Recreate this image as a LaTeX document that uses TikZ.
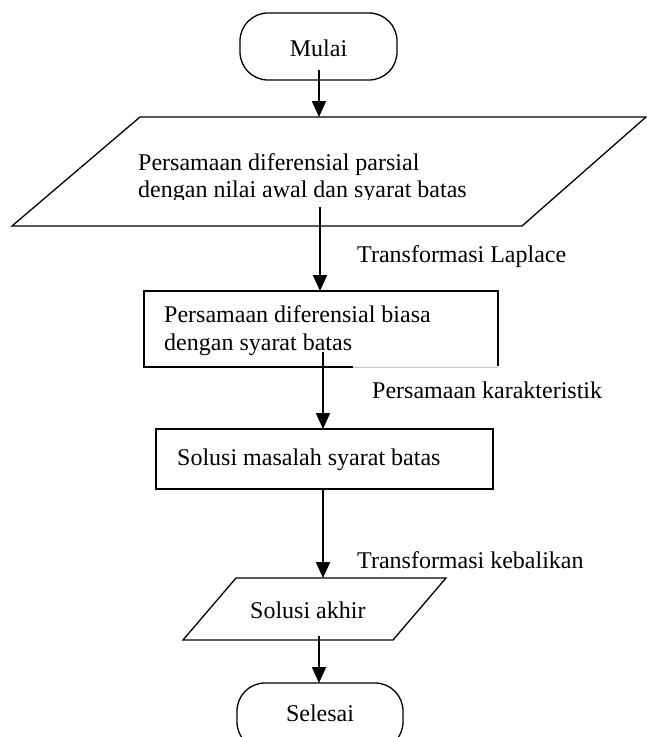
\documentclass[tikz,border=0pt]{standalone}
\usepackage{fontspec}
\setmainfont{Liberation Serif}
\usetikzlibrary{arrows.meta}
\begin{document}
\begin{tikzpicture}[x=1pt,y=-1pt,
  box/.style={line width=1.3pt},
  flow/.style={line width=2pt,-{Triangle[length=16pt,width=14pt]}},
  txt/.style={anchor=base west,inner sep=0pt,font=\fontsize{24}{27.6}\selectfont},
  term/.style={draw,line width=1.3pt,rounded corners=28pt,inner sep=0pt}
]
\useasboundingbox (0,0) rectangle (647,737);
\clip (0,0) rectangle (647,737);

% Start terminal
\node[term,minimum width=157pt,minimum height=67pt] (start) at (318.5,46.5) {};
\node[txt,anchor=base] (starttext) at (318.5,56) {Mulai};

% Parallelogram 1
\coordinate (p1a) at (12,226);
\coordinate (p1b) at (522,226);
\coordinate (p1c) at (646,117);
\coordinate (p1d) at (140,117);
\draw[box] (p1a) -- (p1b) -- (p1c) -- (p1d) -- cycle;
\begin{scope}
\clip (0,0) rectangle (647,199);
\node[txt] (p1l1) at (138,170) {Persamaan diferensial parsial};
\node[txt] (p1l2) at (138,197) {dengan nilai awal dan syarat batas};
\end{scope}

% Rectangle 2
\coordinate (r2nw) at (144,291);
\coordinate (r2ne) at (498,291);
\coordinate (r2se) at (498,366);
\coordinate (r2sw) at (144,367);
\coordinate (r2cut) at (353,367);
\coordinate (r2end) at (498,367);
\draw[box] (r2cut) -- (r2sw) -- (r2nw) -- (r2ne) -- (r2se);
\draw[gray!45,line width=0.8pt] (r2cut) -- (r2end);
\node[txt] (r2l1) at (164,322) {Persamaan diferensial biasa};
\node[txt] (r2l2) at (164,350) {dengan syarat batas};

% Rectangle 3
\node[draw,box,minimum width=337pt,minimum height=60pt,inner sep=0pt] (r3) at (324.5,459) {};
\node[txt] (r3l) at (177,465) {Solusi masalah syarat batas};

% Parallelogram 2
\coordinate (p2a) at (183,640);
\coordinate (p2b) at (393,640);
\coordinate (p2c) at (446,578);
\coordinate (p2d) at (236,578);
\draw[box] (p2a) -- (p2b) -- (p2c) -- (p2d) -- cycle;
\node[txt] (p2l) at (250,618) {Solusi akhir};

% End terminal
\node[term,minimum width=166pt,minimum height=67pt] (end) at (320,716.5) {};
\node[txt,anchor=base] (endtext) at (320,721) {Selesai};

% Connectors
\coordinate (s1) at (319,70);  \coordinate (e1) at (319,117);
\coordinate (s2) at (320,207); \coordinate (e2) at (320,291);
\coordinate (s3) at (323,352); \coordinate (e3) at (323,429);
\coordinate (s4) at (323,489); \coordinate (e4) at (323,578);
\coordinate (s5) at (319,636); \coordinate (e5) at (319,683);
\draw[flow] (s1) -- (e1);
\draw[flow] (s2) -- (e2);
\draw[flow] (s3) -- (e3);
\draw[flow] (s4) -- (e4);
\draw[flow] (s5) -- (e5);

% Labels
\node[txt] (lab1) at (357,262) {Transformasi Laplace};
\node[txt] (lab2) at (372,398) {Persamaan karakteristik};
\node[txt] (lab3) at (357,568) {Transformasi kebalikan};
\end{tikzpicture}
\end{document}
